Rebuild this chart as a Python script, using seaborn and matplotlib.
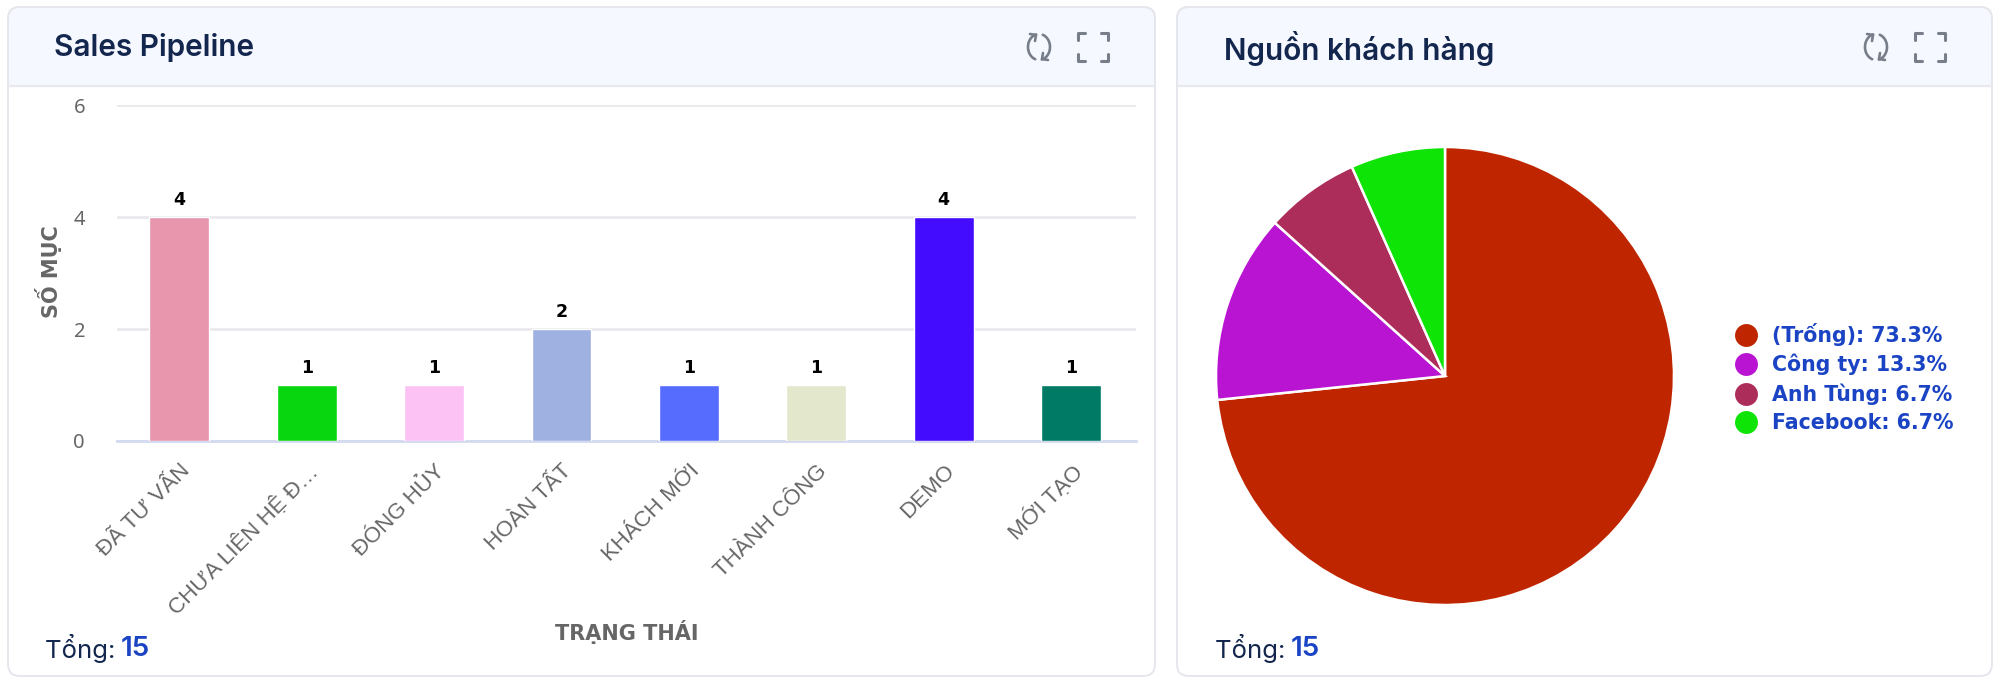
import numpy as np
import pandas as pd
import matplotlib
matplotlib.use("Agg")
import matplotlib.pyplot as plt
from matplotlib.lines import Line2D
from matplotlib.patches import FancyBboxPatch, Rectangle
import seaborn as sns

# du lieu doc tu hinh
trang_thai = ['ĐÃ TƯ VẤN', 'CHƯA LIÊN HỆ Đ…', 'ĐÓNG HỦY', 'HOÀN TẤT', 'KHÁCH MỚI', 'THÀNH CÔNG', 'DEMO', 'MỚI TẠO']
so_muc = [4, 1, 1, 2, 1, 1, 4, 1]
mau_cot = ['#e895ae', '#08d60e', '#fcc2f4', '#9fb1e0', '#566cff', '#e3e7cb', '#440cff', '#017a65']
y_ticks = [0, 2, 4, 6]

nguon = ['(Trống)', 'Công ty', 'Anh Tùng', 'Facebook']
so_khach = [11, 2, 1, 1]
phan_tram = [73.3, 13.3, 6.7, 6.7]
mau_pie = ['#bf2600', '#b814d2', '#ad2d5a', '#0ee406']
tong = 15

W, H = 2000, 681
NAVY = '#13264d'
BLUE = '#1b44c4'
GRAY = '#666666'
ICON = '#777e8a'

sns.set_theme(style="white")
plt.rcParams['font.family'] = ['Inter', 'Noto Sans', 'DejaVu Sans']

fig = plt.figure(figsize=(W / 100, H / 100), dpi=100, facecolor='white')


def px_axes(x0, y0, x1, y1, **kw):
    # vi tri truc theo pixel, goc tren ben trai
    return fig.add_axes([x0 / W, 1 - y1 / H, (x1 - x0) / W, (y1 - y0) / H], **kw)


bg = px_axes(0, 0, W, H)
bg.set_xlim(0, W)
bg.set_ylim(H, 0)
bg.axis('off')


def draw_card(x0, x1, title, title_x, icon_x, tong_x):
    y0, y1, head = 7, 676, 86
    box = dict(boxstyle="round,pad=0,rounding_size=12", linewidth=1.4)
    bg.add_patch(FancyBboxPatch((x0, y0), x1 - x0, y1 - y0, facecolor='white', edgecolor='#e6e7ec', zorder=1, **box))
    top = FancyBboxPatch((x0, y0), x1 - x0, y1 - y0, facecolor='#f5f8ff', edgecolor='#e6e7ec', zorder=2, **box)
    bg.add_patch(top)
    top.set_clip_path(Rectangle((x0 - 3, y0 - 3), x1 - x0 + 6, head - y0 + 3, transform=bg.transData))
    bg.plot([x0, x1], [head, head], color='#e8e9ee', lw=1.6, zorder=3)
    bg.text(title_x, 48, title, fontsize=21.4, fontweight=600, color=NAVY, va='center', zorder=4)
    # nut lam moi
    cx, cy = icon_x, 47
    t1 = np.radians(np.linspace(105, 250, 30))
    t2 = np.radians(np.linspace(-75, 70, 30))
    for t in (t1, t2):
        bg.plot(cx + 11 * np.cos(t), cy - 13 * np.sin(t), color=ICON, lw=1.9, zorder=4)
    bg.plot([cx - 9, cx - 3, cx - 4], [34, 35, 41], color=ICON, lw=1.9, zorder=4)
    bg.plot([cx + 9, cx + 3, cx + 4], [60, 59, 53], color=ICON, lw=1.9, zorder=4)
    # nut toan man hinh
    fx = icon_x + 54
    for sx, sy in [(-1, -1), (1, -1), (-1, 1), (1, 1)]:
        bg.plot([fx + sx * 15, fx + sx * 15, fx + sx * 8], [47 + sy * 7, 47 + sy * 14, 47 + sy * 14],
                color=ICON, lw=2.2, zorder=4, solid_capstyle='round')
    bg.text(tong_x, 649, 'Tổng: ', fontsize=18.5, color=NAVY, va='center', zorder=4)
    bg.text(tong_x + 76, 649, str(tong), fontsize=20, fontweight=600, color=BLUE, va='center', zorder=4)


draw_card(8, 1155, 'Sales Pipeline', 54, 1039, 45)
draw_card(1177, 1992, 'Nguồn khách hàng', 1224, 1876, 1215)

# cot
ax = px_axes(117, 105, 1136, 441)
ax.patch.set_alpha(0)
df = pd.DataFrame({'trang_thai': trang_thai, 'so_muc': so_muc})
sns.barplot(data=df, x='trang_thai', y='so_muc', hue='trang_thai', palette=mau_cot, width=0.47,
            saturation=1, legend=False, ax=ax, zorder=3)
ax.set_ylim(0, 6)
ax.set_yticks(y_ticks)
ax.set_xlim(-0.49, len(trang_thai) - 0.49)
ax.grid(axis='y', color='#e8e8ec', lw=1.8, zorder=0)
ax.grid(axis='x', visible=False)
ax.set_axisbelow(True)
for s in ['top', 'right', 'left']:
    ax.spines[s].set_visible(False)
ax.spines['bottom'].set_color('#d3daf0')
ax.spines['bottom'].set_linewidth(2)
ax.tick_params(axis='y', length=0, pad=23, labelsize=14.5, labelcolor=GRAY)
ax.tick_params(axis='x', length=0, pad=14, labelsize=16, labelcolor=GRAY)
plt.setp(ax.get_yticklabels(), family=['Noto Sans', 'DejaVu Sans'])
plt.setp(ax.get_xticklabels(), rotation=45, ha='right', rotation_mode='anchor',
         family=['Liberation Sans', 'DejaVu Sans'])
ax.set_xlabel('')
ax.set_ylabel('')
for c in ax.containers:
    ax.bar_label(c, padding=6, fontsize=12.5, fontweight='bold', color='black', family='DejaVu Sans')

bg.text(627, 632, 'TRẠNG THÁI', fontsize=15, fontweight='bold', color=GRAY, ha='center', va='center',
        family='DejaVu Sans', zorder=4)
bg.text(48, 272, 'SỐ MỤC', fontsize=15, fontweight='bold', color=GRAY, ha='center', va='center',
        rotation=90, family='DejaVu Sans', zorder=4)

# tron
cx, cy, r = 1445, 376, 229
ax2 = px_axes(cx - r, cy - r, cx + r, cy + r)
ax2.pie(so_khach, colors=mau_pie, startangle=90, counterclock=False, radius=1,
        wedgeprops=dict(edgecolor='white', linewidth=1.8))
ax2.set_xlim(-1, 1)
ax2.set_ylim(-1, 1)

handles = [Line2D([], [], linestyle='none', marker='o', markersize=16.5, markerfacecolor=m, markeredgewidth=0)
           for m in mau_pie]
labels = [f'{n}: {p}%' for n, p in zip(nguon, phan_tram)]
leg = fig.legend(handles, labels, loc='center left', bbox_to_anchor=(1731 / W, 1 - 378 / H), frameon=False,
                 prop=dict(family='DejaVu Sans', weight='bold', size=14.8), labelspacing=0.39,
                 handletextpad=0.5, borderpad=0, borderaxespad=0, handlelength=1.5)
for t in leg.get_texts():
    t.set_color(BLUE)

fig.savefig('out.png', dpi=100)
